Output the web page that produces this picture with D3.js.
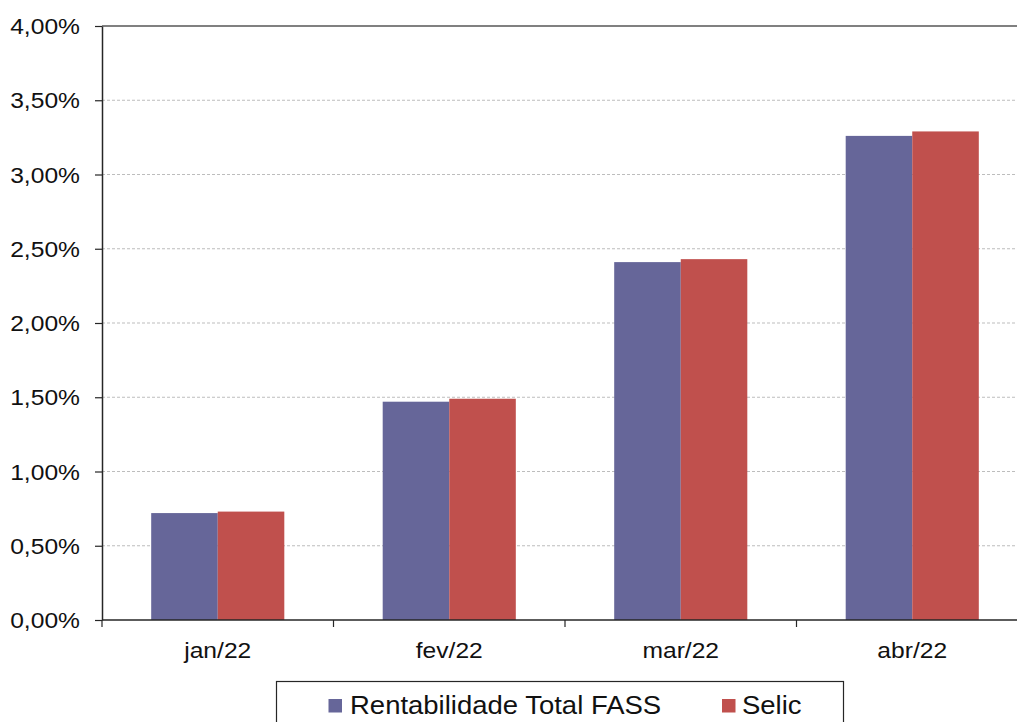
<!DOCTYPE html>
<html>
<head>
<meta charset="utf-8">
<script src="https://cdn.jsdelivr.net/npm/d3@7/dist/d3.min.js"></script>
<style>
  html, body { margin: 0; padding: 0; background: #fff; }
  svg { display: block; font-family: "Liberation Sans", Arial, sans-serif; }
</style>
</head>
<body>
<svg id="chart" width="1017" height="722"></svg>
<script>
const categories = ["jan/22", "fev/22", "mar/22", "abr/22"];
const seriesNames = ["Rentabilidade Total FASS", "Selic"];
const fassValues = [0.72, 1.47, 2.41, 3.26];
const selicValues = [0.73, 1.49, 2.43, 3.29];
const yTicks = [0, 0.5, 1, 1.5, 2, 2.5, 3, 3.5, 4];
const colors = ["#666699", "#C0504D"];

const svg = d3.select("#chart");
const mLeft = 102, mTop = 26, mBottom = 620;
const step = 231.5;
const mRight = mLeft + step * categories.length;
const sx = 1.12;

const locale = d3.formatLocale({decimal: ",", thousands: ".", grouping: [3], currency: ["R$", ""]});
const fmt = v => locale.format(".2f")(v) + "%";

const x = d3.scaleBand().domain(categories).range([mLeft, mRight]).paddingInner(0.425).paddingOuter(0.2125);
const xs = d3.scaleBand().domain(seriesNames).range([0, x.bandwidth()]);
const y = d3.scaleLinear().domain([0, 4]).range([mBottom, mTop]);

// gridlines
svg.append("g").selectAll("line").data(yTicks.filter(t => t > 0 && t < 4)).join("line")
  .attr("x1", mLeft).attr("x2", 1017)
  .attr("y1", d => y(d)).attr("y2", d => y(d))
  .attr("stroke", "#BDBDBD").attr("stroke-width", 1).attr("stroke-dasharray", "3,2");
svg.append("line").attr("x1", mLeft).attr("x2", 1017).attr("y1", y(4)).attr("y2", y(4))
  .attr("stroke", "#808080").attr("stroke-width", 2);

// bars
const data = categories.map((c, i) => ({c, vals: [fassValues[i], selicValues[i]]}));
const groups = svg.append("g").selectAll("g").data(data).join("g")
  .attr("transform", d => `translate(${x(d.c)},0)`);
groups.selectAll("rect").data(d => d.vals.map((v, j) => ({name: seriesNames[j], v, j}))).join("rect")
  .attr("x", d => xs(d.name)).attr("width", xs.bandwidth())
  .attr("y", d => y(d.v)).attr("height", d => y(0) - y(d.v))
  .attr("fill", d => colors[d.j]);

// y axis
const yAxis = svg.append("g").attr("transform", `translate(${mLeft},0)`)
  .call(d3.axisLeft(y).tickValues(yTicks).tickFormat(fmt).tickSize(7).tickSizeOuter(0));
yAxis.select(".domain").attr("stroke", "#262626").attr("stroke-width", 1.5);
yAxis.selectAll(".tick line").attr("stroke", "#262626").attr("stroke-width", 1.2);
yAxis.selectAll(".tick text")
  .attr("x", -22 / sx).attr("dy", "0.35em")
  .attr("transform", `scale(${sx},1)`)
  .attr("font-size", 22).attr("fill", "#111").attr("font-family", "Liberation Sans, Arial, sans-serif");

// x axis
const xAxis = svg.append("g").attr("transform", `translate(0,${mBottom})`)
  .call(d3.axisBottom(x).tickSize(0).tickSizeOuter(0));
xAxis.select(".domain").remove();
xAxis.selectAll(".tick line").remove();
xAxis.selectAll(".tick text")
  .attr("y", 38).attr("dy", 0)
  .attr("transform", `scale(${sx},1)`)
  .attr("font-size", 22).attr("fill", "#111").attr("font-family", "Liberation Sans, Arial, sans-serif");
svg.append("line").attr("x1", mLeft).attr("x2", 1017).attr("y1", mBottom).attr("y2", mBottom)
  .attr("stroke", "#262626").attr("stroke-width", 1.5);
const boundaries = d3.range(categories.length + 1).map(i => mLeft + i * step);
svg.append("g").selectAll("line").data(boundaries).join("line")
  .attr("x1", d => d).attr("x2", d => d).attr("y1", mBottom).attr("y2", mBottom + 7)
  .attr("stroke", "#262626").attr("stroke-width", 1.2);

// legend
const lg = svg.append("g");
lg.append("rect").attr("x", 276.5).attr("y", 681.5).attr("width", 567).attr("height", 60)
  .attr("fill", "none").attr("stroke", "#262626").attr("stroke-width", 1.2);
const legendX = [[328.5, 350], [722, 742]];
seriesNames.forEach((n, i) => {
  lg.append("rect").attr("x", legendX[i][0]).attr("y", 699).attr("width", 13.5).attr("height", 13.5)
    .attr("fill", colors[i]);
  lg.append("text").attr("transform", `translate(${legendX[i][1]},713.5) scale(1.057,1)`)
    .attr("font-size", 26).attr("fill", "#111").text(n);
});
</script>
</body>
</html>
